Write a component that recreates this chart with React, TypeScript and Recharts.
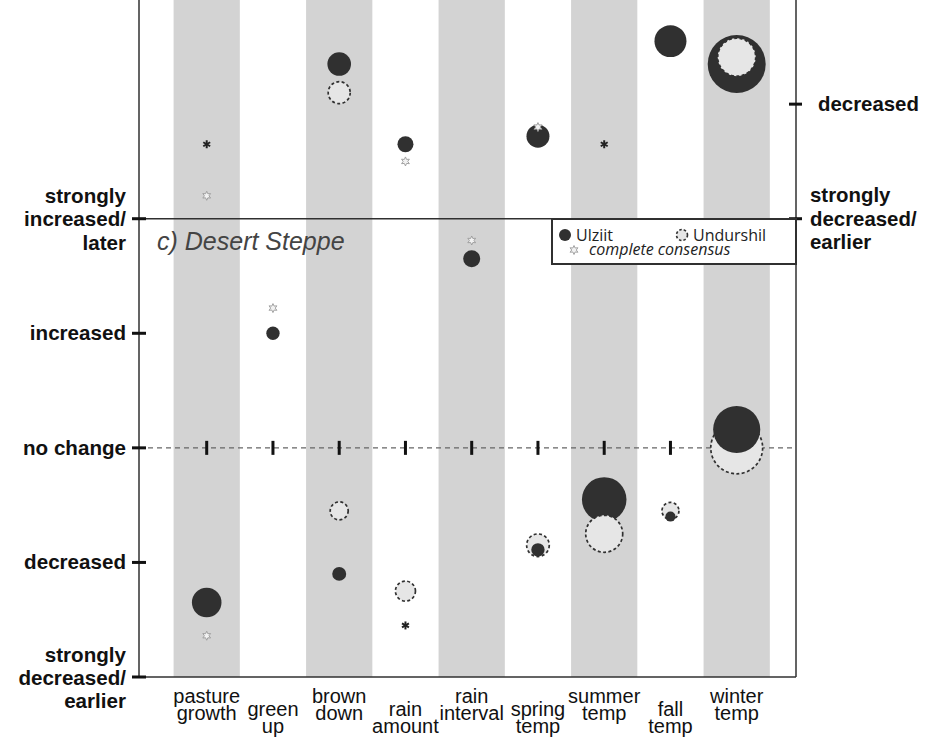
import { ScatterChart, Scatter, XAxis, YAxis, ZAxis, ReferenceArea, ReferenceLine } from 'recharts'

// categories along the x axis
const categories = [
  'pasture growth',
  'green up',
  'brown down',
  'rain amount',
  'rain interval',
  'spring temp',
  'summer temp',
  'fall temp',
  'winter temp',
]

// c) Desert Steppe: mean perceived change (-2 strongly decreased ... 2 strongly increased)
// spread = disagreement among respondents (0 = complete consensus)
const ulziitC = [-1.35, 1.0, -1.1, -1.55, 1.65, -0.89, -0.45, -0.6, 0.16]
const ulziitCSpread = [26, 5.3, 5.8, 0, 8.6, 5.3, 59, 3, 66]
const undurshilC = [-1.64, 1.22, -0.55, -1.25, 1.81, -0.85, -0.75, -0.55, 0]
const undurshilCSpread = [0, 0, 9.6, 11.9, 0, 15.2, 40.7, 8.6, 80]

// panel above (cut off), only what is visible
const ulziitB = [-1.35, null, -0.65, -1.35, null, -1.28, -1.35, -0.45, -0.65]
const ulziitBSpread = [0, null, 16.6, 7.6, null, 15.7, 0, 30.4, 100]
const undurshilB = [-1.8, null, -0.9, -1.5, null, -1.2, null, null, -0.59]
const undurshilBSpread = [0, null, 14.4, 0, null, 0, null, null, 42.9]

const ticksC = [-2, -1, 0, 1, 2]
const labelsC: Record<string, string[]> = {
  '2': ['strongly', 'increased/', 'later'],
  '1': ['increased'],
  '0': ['no change'],
  '-1': ['decreased'],
  '-2': ['strongly', 'decreased/', 'earlier'],
}
const ticksB = [-2, -1]
const labelsB: Record<string, string[]> = {
  '-1': ['decreased'],
  '-2': ['strongly', 'decreased/', 'earlier'],
}

const shadedIdx = [0, 2, 4, 6, 8]

type Pt = { x: number; y: number; z: number; site: string }

function buildPoints(u: (number | null)[], us: (number | null)[], d: (number | null)[], ds: (number | null)[]) {
  const pts: Pt[] = []
  categories.forEach((_, i) => {
    if (u[i] != null) pts.push({ x: i, y: u[i] as number, z: us[i] as number, site: 'Ulziit' })
    if (d[i] != null) pts.push({ x: i, y: d[i] as number, z: ds[i] as number, site: 'Undurshil' })
  })
  // bigger bubbles first so the smaller ones stay visible on top
  return pts.sort((a, b) => b.z - a.z)
}

const pointsC = buildPoints(ulziitC, ulziitCSpread, undurshilC, undurshilCSpread)
const pointsB = buildPoints(ulziitB, ulziitBSpread, undurshilB, undurshilBSpread)
const noChangeMarks = categories.map((_, i) => ({ x: i, y: 0 }))

const FONT = '"Liberation Sans", Arial, sans-serif'
const DARK = '#303030'

const Asterisk = ({ cx, cy }: { cx: number; cy: number }) => {
  const r = 4
  const lines = [90, 30, 150].map((a) => {
    const rad = (a * Math.PI) / 180
    return (
      <line
        key={a}
        x1={cx - r * Math.cos(rad)}
        y1={cy - r * Math.sin(rad)}
        x2={cx + r * Math.cos(rad)}
        y2={cy + r * Math.sin(rad)}
        stroke="#222"
        strokeWidth={2}
      />
    )
  })
  return <g>{lines}</g>
}

const LightStar = ({ cx, cy }: { cx: number; cy: number }) => {
  const pts: string[] = []
  for (let k = 0; k < 12; k++) {
    const rr = k % 2 === 0 ? 4.5 : 2.3
    const a = (k * Math.PI) / 6 - Math.PI / 2
    pts.push(`${cx + rr * Math.cos(a)},${cy + rr * Math.sin(a)}`)
  }
  return <polygon points={pts.join(' ')} fill="#f2f2f2" stroke="#9a9a9a" strokeWidth={0.9} />
}

const Bubble = (props: any) => {
  const { cx, cy, payload } = props
  if (cx == null || cy == null) return <g />
  const size = typeof props.size === 'number' && !isNaN(props.size) ? props.size : 0
  const r = Math.sqrt(size / Math.PI)
  if (payload.z === 0) {
    return payload.site === 'Ulziit' ? <Asterisk cx={cx} cy={cy} /> : <LightStar cx={cx} cy={cy} />
  }
  if (payload.site === 'Ulziit') return <circle cx={cx} cy={cy} r={r} fill={DARK} />
  return (
    <circle cx={cx} cy={cy} r={r} fill="#e6e6e6" stroke={DARK} strokeWidth={1.7} strokeDasharray="3 2.4" />
  )
}

const NoChangeMark = (props: any) => {
  const { cx, cy } = props
  return <rect x={cx - 1.5} y={cy - 7} width={3} height={14} fill="#111" />
}

const LeftTick = (props: any) => {
  const { x, y, payload } = props
  const lines = labelsC[String(payload.value)] || []
  const offs = lines.length === 1 ? [7] : payload.value > 0 ? [-16, 7, 31] : [-15, 8, 31]
  return (
    <g>
      <rect x={x - 7} y={y - 1.5} width={14} height={3} fill="#111" />
      {lines.map((l, i) => (
        <text key={i} x={x - 13} y={y + offs[i]} textAnchor="end" fontFamily={FONT} fontWeight="bold" fontSize={20.6} fill="#111">
          {l}
        </text>
      ))}
    </g>
  )
}

const RightTick = (props: any) => {
  const { x, y, payload } = props
  const lines = labelsB[String(payload.value)] || []
  const offs = lines.length === 1 ? [7] : [-17, 7, 30]
  const tx = lines.length === 1 ? x + 22 : x + 14
  return (
    <g>
      <rect x={x - 7} y={y - 1.5} width={13} height={3} fill="#111" />
      {lines.map((l, i) => (
        <text key={i} x={tx} y={y + offs[i]} textAnchor="start" fontFamily={FONT} fontWeight="bold" fontSize={20.4} fill="#111">
          {l}
        </text>
      ))}
    </g>
  )
}

const BottomTick = (props: any) => {
  const { x, y, payload } = props
  const idx = Math.round(payload.value)
  const words = (categories[idx] || '').split(' ')
  const offs = idx % 2 === 0 ? [26, 43] : [39, 56]
  return (
    <g>
      {words.map((w, i) => (
        <text key={i} x={x} y={y + offs[i]} textAnchor="middle" fontFamily={FONT} fontSize={20} fill="#111">
          {w}
        </text>
      ))}
    </g>
  )
}

export default function App() {
  return (
    <div style={{ position: 'absolute', left: 0, top: 0, width: 935, height: 744, background: '#fff' }}>
      <ScatterChart width={935} height={744} margin={{ top: 0, right: 0, bottom: 0, left: 0 }}>
        <XAxis
          type="number"
          dataKey="x"
          domain={[-1.022, 8.895]}
          ticks={[0, 1, 2, 3, 4, 5, 6, 7, 8]}
          interval={0}
          height={67}
          tickLine={false}
          tickSize={0}
          tickMargin={0}
          axisLine={{ stroke: DARK, strokeWidth: 1.5 }}
          tick={<BottomTick />}
        />
        <YAxis
          yAxisId="c"
          type="number"
          dataKey="y"
          domain={[-2, 3.909]}
          ticks={ticksC}
          interval={0}
          width={139}
          tickLine={false}
          tickSize={0}
          tickMargin={0}
          axisLine={{ stroke: DARK, strokeWidth: 1.5 }}
          tick={<LeftTick />}
        />
        <YAxis
          yAxisId="b"
          orientation="right"
          type="number"
          dataKey="y"
          domain={[-6, -0.091]}
          ticks={ticksB}
          interval={0}
          width={139}
          tickLine={false}
          tickSize={0}
          tickMargin={0}
          axisLine={{ stroke: DARK, strokeWidth: 1.5 }}
          tick={<RightTick />}
        />
        <ZAxis type="number" dataKey="z" domain={[0, 100]} range={[0, 2642]} />
        {shadedIdx.map((i) => (
          <ReferenceArea key={i} yAxisId="c" x1={i - 0.5} x2={i + 0.5} fill="#d3d3d3" fillOpacity={1} stroke="none" />
        ))}
        <ReferenceLine yAxisId="c" y={0} stroke="#666" strokeWidth={1.2} strokeDasharray="5 4" />
        <ReferenceLine yAxisId="c" y={2} stroke={DARK} strokeWidth={1.5} />
        <Scatter yAxisId="c" data={noChangeMarks} shape={<NoChangeMark />} isAnimationActive={false} />
        <Scatter yAxisId="c" data={pointsC} shape={<Bubble />} isAnimationActive={false} />
        <Scatter yAxisId="b" data={pointsB} shape={<Bubble />} isAnimationActive={false} />
      </ScatterChart>
      <svg width={935} height={744} style={{ position: 'absolute', left: 0, top: 0, pointerEvents: 'none' }}>
        <text x={157} y={250} fontFamily={FONT} fontStyle="italic" fontSize={25} fill="#444">
          c) Desert Steppe
        </text>
        <rect x={552} y={219} width={244} height={45} fill="#fff" stroke={DARK} strokeWidth={2} />
        <circle cx={565} cy={235} r={6} fill={DARK} />
        <text x={576} y={241} fontFamily='"Open Sans", sans-serif' fontSize={16} fill="#222">
          Ulziit
        </text>
        <circle cx={682} cy={235} r={5.5} fill="#e6e6e6" stroke={DARK} strokeWidth={1.6} strokeDasharray="2.5 2" />
        <text x={693} y={241} fontFamily='"Open Sans", sans-serif' fontSize={16} fill="#222">
          Undurshil
        </text>
        <LightStar cx={574} cy={250} />
        <text x={589} y={255} fontFamily='"Open Sans", sans-serif' fontStyle="italic" fontSize={16} fill="#222">
          complete consensus
        </text>
      </svg>
    </div>
  )
}
